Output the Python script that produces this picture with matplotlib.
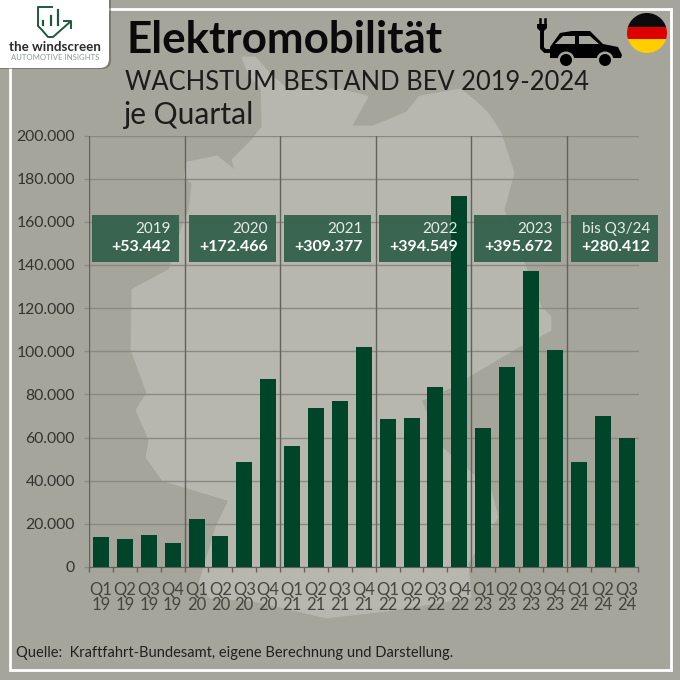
import matplotlib
matplotlib.use("Agg")
import matplotlib.pyplot as plt
from matplotlib.patches import Circle, FancyBboxPatch, Polygon, Rectangle

quarters = ["Q1", "Q2", "Q3", "Q4", "Q1", "Q2", "Q3", "Q4", "Q1", "Q2", "Q3", "Q4",
            "Q1", "Q2", "Q3", "Q4", "Q1", "Q2", "Q3", "Q4", "Q1", "Q2", "Q3"]
years = ["19"] * 4 + ["20"] * 4 + ["21"] * 4 + ["22"] * 4 + ["23"] * 4 + ["24"] * 3
growth = [14000, 13000, 15000, 11200,
          22200, 14500, 48500, 87000,
          56000, 73500, 77000, 102000,
          68500, 69000, 83500, 172000,
          64500, 92500, 137000, 100500,
          48500, 70000, 60000]
period_labels = ["2019", "2020", "2021", "2022", "2023", "bis Q3/24"]
period_totals = ["+53.442", "+172.466", "+309.377", "+394.549", "+395.672", "+280.412"]

BG = "#a6a59b"
MAP = "#b7b7af"
BAR = "#00442a"
BOX = "#35634d"

plt.rcParams["font.family"] = "Lato"

fig = plt.figure(figsize=(6.8, 6.8), dpi=100, facecolor=BG)


def pixel_axes(zorder):
    """full figure axes in image pixels, y pointing down"""
    a = fig.add_axes([0, 0, 1, 1], zorder=zorder)
    a.set_xlim(0, 680)
    a.set_ylim(680, 0)
    a.axis("off")
    return a


def fit_text(a, x, y, text, width, **kwargs):
    """place a text and scale its font so it is width pixels wide"""
    t = a.text(x, y, text, va="center", **kwargs)
    drawn = t.get_window_extent(fig.canvas.get_renderer()).width
    t.set_fontsize(t.get_fontsize() * width / drawn)
    return t


back = pixel_axes(0)
front = pixel_axes(2)

# rough outline of the country behind the chart
outline = [(243, 58), (250, 75), (262, 88), (263, 127), (253, 140), (233, 160), (237, 173),
           (217, 157), (187, 163), (185, 177), (193, 183), (190, 210), (183, 227), (170, 270),
           (133, 290), (132, 350), (148, 393), (137, 410), (150, 440), (147, 457), (163, 480),
           (187, 487), (230, 500), (217, 527), (200, 583), (210, 597), (253, 600), (327, 617),
           (387, 610), (470, 597), (467, 563), (497, 517), (490, 490), (440, 447), (420, 400),
           (450, 387), (473, 373), (517, 347), (550, 330), (550, 317), (540, 307), (503, 210),
           (513, 173), (500, 133), (487, 113), (473, 100), (460, 90), (420, 97), (407, 113),
           (373, 127), (350, 127), (367, 97), (340, 90), (287, 90), (270, 75), (255, 58)]
back.add_patch(Polygon(outline, closed=True, fc=MAP, ec=MAP, lw=2, joinstyle="round"))
back.add_patch(Rectangle((9.5, 9), 661, 660.5, fc="none", ec="white", lw=2))

ax = fig.add_axes([89 / 680, (680 - 567) / 680, 549.5 / 680, 431.5 / 680], zorder=1)
ax.patch.set_alpha(0)
x = list(range(len(growth)))
ax.set_xlim(-0.5, 22.5)
ax.set_ylim(0, 200000)
ax.set_axisbelow(True)
ax.grid(axis="y", color="#8a8a82", lw=1)
ax.bar(x, growth, width=0.67, color=BAR, zorder=3)

for sep in [-0.5, 3.5, 7.5, 11.5, 15.5, 19.5]:
    ax.axvline(sep, color="#62625c", lw=1, zorder=2)

for side in ["top", "right", "left"]:
    ax.spines[side].set_visible(False)
ax.spines["bottom"].set_color("#62625c")

ax.set_yticks(range(0, 200001, 20000))
ax.set_yticklabels([f"{v:,}".replace(",", ".") for v in range(0, 200001, 20000)],
                   fontsize=11.3, color="#33332f")
ax.set_xticks(x)
ax.set_xticklabels([f"{q}\n{y}" for q, y in zip(quarters, years)],
                   fontsize=12, color="#45453f", linespacing=0.97)
ax.set_xticks([i - 0.5 for i in range(len(growth) + 1)], minor=True)
ax.tick_params(axis="x", which="major", length=0, pad=10.5)
ax.tick_params(axis="x", which="minor", length=3.6, color="#62625c", width=1)
ax.tick_params(axis="y", length=3.6, color="#8a8a82", width=1, pad=6.5)

box_left = [92, 189, 284, 379, 474, 571]
for left, label, total in zip(box_left, period_labels, period_totals):
    ax.add_patch(Rectangle((left, 215), 87, 47, transform=back.transData, fc=BOX, ec="none",
                           alpha=0.96, zorder=2.5, clip_on=False))
    front.text(left + 79, 229, label, color="#e8ece8", fontsize=11, ha="right", va="center")
    front.text(left + 79, 247, total, color="white", fontsize=11.5, fontweight="bold",
               ha="right", va="center")

# headings
fit_text(front, 126, 40, "Elektromobilität", 317, fontweight="bold", color="#0a0a0a")
fit_text(front, 125, 82, "WACHSTUM BESTAND BEV 2019-2024", 463, color="#1c1c1a")
fit_text(front, 123, 115, "je Quartal", 130, color="#1c1c1a")
fit_text(front, 16, 653, "Quelle:  Kraftfahrt-Bundesamt, eigene Berechnung und Darstellung.", 434,
         color="#20201e")

# logo card
front.add_patch(FancyBboxPatch((-20, -20), 131, 89, boxstyle="round,pad=0,rounding_size=9",
                               fc="#55554f", ec="none", alpha=0.55))
front.add_patch(FancyBboxPatch((-20, -20), 129, 88, boxstyle="round,pad=0,rounding_size=9",
                               fc="white", ec="none"))
green = "#1d5a3c"
front.plot([52, 38, 38, 42, 48, 53, 70], [7, 7, 26, 30, 37, 37, 22], color=green, lw=1.4)
front.plot([43, 43], [21, 25], color=green, lw=1.6)
front.plot([51, 51], [16, 25], color=green, lw=1.6)
front.plot([58, 58], [10, 25], color=green, lw=1.6)
front.plot([64, 71, 71], [21, 21, 28], color=green, lw=1.4)
fit_text(front, 55, 47, "the windscreen", 92, fontweight="bold", color="#2a2a2a", ha="center")
fit_text(front, 55, 57, "AUTOMOTIVE INSIGHTS", 88, color="#8d9a92", ha="center")

# car with charging plug
front.add_patch(Polygon([(550, 55), (550, 47), (560, 33), (572, 31), (590, 31), (603, 44),
                         (618, 47), (622, 55), (621, 58), (550, 58)], fc="black", ec="none"))
front.add_patch(Polygon([(555, 44), (563, 36), (575, 36), (575, 44)], fc=BG, ec="none"))
front.add_patch(Polygon([(579, 36), (590, 36), (599, 44), (579, 44)], fc=BG, ec="none"))
for cx in [566, 605]:
    front.add_patch(Circle((cx, 60), 8.5, fc=BG, ec="none"))
    front.add_patch(Circle((cx, 60), 6, fc="black", ec="none"))
front.plot([542, 542, 545, 552], [30, 48, 51, 51], color="black", lw=2.8)
front.add_patch(Polygon([(537, 24), (547, 24), (547, 28), (543, 32), (541, 32), (537, 28)],
                        fc="black", ec="none"))
front.plot([539.5, 539.5], [19, 24], color="black", lw=1.8)
front.plot([544.5, 544.5], [19, 24], color="black", lw=1.8)

# flag
disc = Circle((647, 33), 20, transform=front.transData)
for top, h, c in [(13, 14, "#0b0b0b"), (27, 12, "#dd0000"), (39, 14, "#ffce00")]:
    stripe = Rectangle((627, top), 40, h, fc=c, ec="none")
    front.add_patch(stripe)
    stripe.set_clip_path(disc)

fig.savefig("out.png", dpi=100, facecolor=BG)
